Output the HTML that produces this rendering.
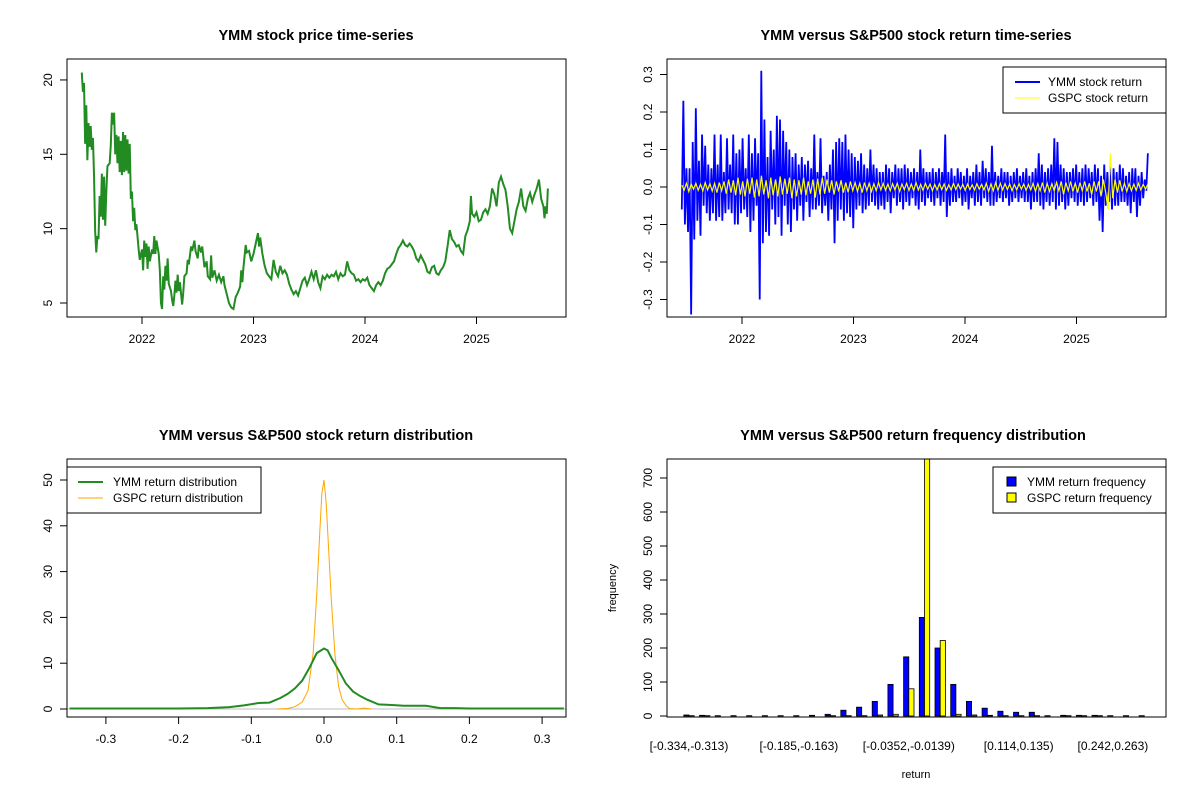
<!DOCTYPE html>
<html><head><meta charset="utf-8"><style>
body{margin:0;background:#fff;}
svg{display:block;font-family:"Liberation Sans",Arial,sans-serif;}
.t{font-size:12px;fill:#000;}
.ti{font-size:14.5px;font-weight:bold;fill:#000;}
</style></head><body>
<svg id="c" width="1200" height="800" viewBox="0 0 1200 800">
<rect width="1200" height="800" fill="#fff"/>
</svg>
<script>
// ---- data ----
const priceTimes = [2021.46,2021.47,2021.48,2021.49,2021.50,2021.51,2021.52,2021.53,2021.54,2021.55,2021.56,2021.57,2021.58,2021.59,2021.60,2021.61,2021.62,2021.63,2021.64,2021.65,2021.66,2021.67,2021.68,2021.69,2021.71,2021.72,2021.73,2021.74,2021.75,2021.76,2021.77,2021.78,2021.79,2021.80,2021.81,2021.82,2021.83,2021.84,2021.85,2021.86,2021.87,2021.88,2021.89,2021.90,2021.91,2021.92,2021.93,2021.94,2021.95,2021.97,2021.98,2022.00,2022.01,2022.02,2022.03,2022.04,2022.05,2022.06,2022.07,2022.09,2022.10,2022.11,2022.12,2022.13,2022.15,2022.16,2022.17,2022.18,2022.19,2022.20,2022.21,2022.22,2022.23,2022.24,2022.26,2022.27,2022.28,2022.29,2022.30,2022.31,2022.32,2022.33,2022.34,2022.36,2022.37,2022.38,2022.40,2022.41,2022.42,2022.44,2022.45,2022.47,2022.48,2022.50,2022.51,2022.53,2022.54,2022.56,2022.58,2022.59,2022.61,2022.62,2022.63,2022.65,2022.67,2022.69,2022.71,2022.73,2022.74,2022.76,2022.78,2022.80,2022.82,2022.84,2022.86,2022.88,2022.89,2022.90,2022.91,2022.93,2022.94,2022.96,2022.98,2023.00,2023.02,2023.04,2023.05,2023.06,2023.08,2023.10,2023.12,2023.14,2023.16,2023.18,2023.20,2023.22,2023.24,2023.26,2023.28,2023.30,2023.32,2023.34,2023.36,2023.38,2023.40,2023.42,2023.44,2023.46,2023.48,2023.50,2023.52,2023.54,2023.56,2023.58,2023.60,2023.62,2023.64,2023.66,2023.68,2023.70,2023.72,2023.74,2023.76,2023.78,2023.80,2023.82,2023.84,2023.86,2023.88,2023.90,2023.92,2023.94,2023.96,2023.98,2024.00,2024.02,2024.04,2024.06,2024.08,2024.10,2024.12,2024.14,2024.16,2024.18,2024.20,2024.22,2024.24,2024.26,2024.28,2024.30,2024.32,2024.34,2024.36,2024.38,2024.40,2024.42,2024.44,2024.46,2024.48,2024.50,2024.52,2024.54,2024.56,2024.58,2024.60,2024.62,2024.64,2024.66,2024.68,2024.70,2024.72,2024.74,2024.76,2024.78,2024.80,2024.82,2024.84,2024.86,2024.88,2024.90,2024.92,2024.94,2024.95,2024.96,2024.98,2025.00,2025.02,2025.04,2025.06,2025.08,2025.10,2025.12,2025.14,2025.16,2025.18,2025.20,2025.22,2025.24,2025.26,2025.28,2025.30,2025.32,2025.34,2025.36,2025.38,2025.40,2025.42,2025.44,2025.46,2025.48,2025.50,2025.52,2025.54,2025.56,2025.58,2025.60,2025.61,2025.62,2025.63,2025.64];
const priceValues = [20.5,19.2,19.8,15.7,18.3,14.6,17.1,15.5,16.9,15.3,16.1,13.5,9.8,8.4,9.5,9.3,12.2,10.8,13.7,10.6,13.5,10.2,12.5,14.2,14.4,15.6,17.8,17.0,17.8,15.0,16.3,14.4,16.2,13.8,15.9,13.6,16.5,13.8,16.3,13.9,16.0,13.7,15.7,12.0,12.5,10.5,11.4,9.9,10.3,8.6,7.9,8.6,7.2,9.2,8.1,9.0,7.3,8.8,7.8,8.6,8.3,9.5,8.3,9.2,8.3,7.2,5.0,4.6,6.8,5.9,7.5,6.5,8.0,6.3,5.8,5.2,4.8,5.5,6.5,5.7,6.9,5.8,6.4,4.9,5.7,6.8,7.0,7.9,7.6,8.8,8.5,9.2,8.5,8.0,8.9,8.4,8.8,7.4,7.8,6.8,6.6,8.2,6.7,7.2,6.5,6.9,6.4,6.8,6.2,5.6,5.0,4.7,4.6,5.4,5.7,6.1,7.2,6.4,7.4,8.9,8.4,8.5,7.8,8.3,9.0,9.7,8.8,9.4,8.3,7.5,7.0,6.8,6.6,7.9,7.1,6.8,7.5,7.0,7.2,6.9,6.3,5.9,5.6,5.8,5.5,6.0,6.5,6.7,6.2,6.6,7.1,6.6,7.2,6.4,6.0,6.8,6.6,6.9,6.7,6.9,6.8,7.1,6.6,7.0,6.8,6.9,7.8,7.2,7.0,6.9,6.5,6.6,6.4,6.6,6.5,6.7,6.2,6.0,5.8,6.2,6.4,6.2,6.5,7.0,7.3,7.4,7.6,7.8,8.3,8.7,8.9,9.2,8.9,8.8,9.0,8.8,8.5,8.0,7.8,8.2,7.9,7.6,7.1,7.0,7.4,7.5,7.0,6.9,7.2,7.4,7.8,8.8,9.9,9.3,9.1,8.8,8.9,8.5,8.3,9.5,9.9,10.5,12.2,11.0,10.8,11.1,10.5,10.6,11.1,11.3,11.0,11.5,12.7,12.3,11.5,13.1,13.5,13.0,12.6,11.5,10.0,9.7,10.5,11.3,11.8,12.7,11.5,11.2,12.0,12.4,11.8,12.3,12.7,13.3,12.0,11.5,10.7,11.5,11.0,12.7];
const ymmReturns = [-0.06,0.23,-0.1,0.05,-0.12,0.05,-0.34,0.12,-0.14,0.21,
-0.09,0.07,-0.13,0.14,-0.05,0.11,-0.07,0.06,-0.09,0.05,
-0.07,0.14,-0.09,0.06,-0.08,0.14,-0.09,0.04,-0.07,0.13,
-0.06,0.06,-0.07,0.14,-0.1,0.09,-0.1,0.1,-0.07,0.13,
-0.06,0.05,-0.08,0.14,-0.12,0.09,-0.09,0.13,-0.05,0.09,
-0.3,0.31,-0.15,0.18,-0.12,0.08,-0.13,0.15,-0.06,0.1,
-0.1,0.19,-0.08,0.18,-0.13,0.15,-0.05,0.12,-0.1,0.1,
-0.12,0.08,-0.06,0.09,-0.09,0.06,-0.05,0.08,-0.09,0.06,
-0.04,0.07,-0.08,0.05,-0.06,0.14,-0.06,0.04,-0.05,0.13,
-0.07,0.03,-0.05,0.04,-0.09,0.06,-0.06,0.1,-0.15,0.12,
-0.09,0.13,-0.06,0.12,-0.09,0.14,-0.07,0.1,-0.08,0.09,
-0.11,0.08,-0.06,0.07,-0.05,0.09,-0.07,0.06,-0.06,0.05,
-0.05,0.1,-0.04,0.06,-0.05,0.05,-0.06,0.04,-0.05,0.04,
-0.06,0.06,-0.04,0.05,-0.07,0.04,-0.03,0.06,-0.05,0.05,
-0.04,0.05,-0.06,0.06,-0.04,0.05,-0.05,0.04,-0.03,0.05,
-0.05,0.04,-0.06,0.1,-0.04,0.05,-0.05,0.04,-0.03,0.04,
-0.04,0.05,-0.05,0.04,-0.03,0.05,-0.05,0.04,-0.04,0.14,
-0.08,0.04,-0.05,0.05,-0.04,0.03,-0.04,0.05,-0.03,0.04,
-0.05,0.03,-0.04,0.05,-0.06,0.03,-0.03,0.04,-0.05,0.06,
-0.04,0.04,-0.05,0.07,-0.03,0.05,-0.04,0.04,-0.05,0.11,
-0.05,0.04,-0.04,0.03,-0.03,0.05,-0.04,0.04,-0.03,0.04,
-0.05,0.03,-0.04,0.04,-0.03,0.05,-0.04,0.03,-0.03,0.04,
-0.04,0.05,-0.04,0.03,-0.06,0.04,-0.04,0.05,-0.04,0.09,
-0.05,0.06,-0.06,0.04,-0.04,0.05,-0.05,0.06,-0.04,0.13,
-0.06,0.12,-0.05,0.06,-0.04,0.05,-0.06,0.04,-0.05,0.04,
-0.03,0.05,-0.04,0.06,-0.05,0.04,-0.04,0.05,-0.05,0.06,
-0.04,0.05,-0.03,0.04,-0.05,0.06,-0.04,0.05,-0.09,0.03,
-0.12,0.06,-0.05,0.04,-0.04,0.06,-0.06,0.05,-0.05,0.04,
-0.05,0.06,-0.04,0.05,-0.04,0.03,-0.05,0.04,-0.07,0.05,
-0.04,0.05,-0.08,0.03,-0.05,0.04,-0.03,0.02,-0.01,0.09];
const gspcReturns = [0.005,-0.008,0.01,-0.012,0.008,-0.006,0.01,-0.009,0.007,-0.01,
0.012,-0.008,0.009,-0.011,0.01,-0.015,0.012,-0.01,0.015,-0.018,
0.02,-0.015,0.018,-0.022,0.025,-0.02,0.015,-0.025,0.022,-0.018,
0.025,-0.028,0.02,-0.025,0.03,-0.02,0.018,-0.03,0.025,-0.022,
0.02,-0.025,0.028,-0.02,0.022,-0.018,0.025,-0.03,0.02,-0.025,
0.018,-0.02,0.025,-0.022,0.015,-0.018,0.02,-0.028,0.022,-0.02,
0.025,-0.018,0.02,-0.015,0.018,-0.02,0.015,-0.012,0.018,-0.015,
0.012,-0.014,0.015,-0.01,0.012,-0.012,0.01,-0.015,0.012,-0.01,
0.01,-0.012,0.009,-0.01,0.012,-0.008,0.01,-0.009,0.008,-0.01,
0.009,-0.008,0.01,-0.012,0.008,-0.007,0.01,-0.009,0.008,-0.01,
0.012,-0.008,0.007,-0.009,0.01,-0.006,0.008,-0.01,0.007,-0.008,
0.009,-0.007,0.008,-0.009,0.006,-0.008,0.01,-0.007,0.008,-0.006,
0.007,-0.009,0.008,-0.007,0.006,-0.008,0.009,-0.006,0.007,-0.008,
0.01,-0.012,0.008,-0.01,0.012,-0.009,0.01,-0.008,0.009,-0.007,
0.008,-0.01,0.007,-0.008,0.009,-0.006,0.008,-0.009,0.007,-0.008,
0.01,-0.012,0.009,-0.01,0.012,-0.015,0.01,-0.012,0.009,-0.01,
0.012,-0.01,0.015,-0.02,0.012,-0.01,0.015,-0.012,0.01,-0.015,
0.012,-0.01,0.015,-0.012,0.01,-0.02,0.015,-0.012,0.015,-0.025,
0.02,-0.015,-0.06,0.09,-0.03,0.02,-0.015,0.018,-0.012,0.01,
-0.012,0.009,-0.01,0.008,-0.009,0.01,-0.008,0.007,-0.006,0.008];
const densX = [-0.35,-0.3,-0.25,-0.2,-0.16,-0.13,-0.11,-0.09,-0.075,-0.06,-0.05,-0.04,-0.03,-0.02,-0.01,0,0.005,0.01,0.02,0.03,0.04,0.05,0.06,0.075,0.09,0.11,0.14,0.16,0.18,0.2,0.25,0.33];
const ymmDensity = [0.1,0.1,0.1,0.1,0.2,0.4,0.8,1.3,1.4,2.4,3.3,4.5,6.2,9.0,12.2,13.2,12.8,11.2,8.5,5.6,3.8,2.8,2.0,1.0,0.9,0.7,0.7,0.2,0.2,0.1,0.1,0.1];
const gspcX = [-0.065,-0.05,-0.04,-0.03,-0.022,-0.015,-0.01,-0.006,-0.003,0,0.003,0.006,0.01,0.015,0.02,0.025,0.03,0.035,0.045,0.055,0.065];
const gspcDensity = [0,0.1,0.5,1.5,4,12,25,38,47,50,45,36,24,12,5,2,0.8,0.1,0,0.2,0];
const binLabels = ["[-0.334,-0.313)","[-0.185,-0.163)","[-0.0352,-0.0139)","[0.114,0.135)","[0.242,0.263)"];
const binLabelIdx = [0,7,14,21,27];
const ymmFreq = [3,2,1,1,1,1,1,1,2,5,17,26,43,93,174,290,200,93,43,23,14,11,11,1,2,2,2,1,1,1];
const gspcFreq = [1,1,0,0,0,0,0,0,0,1,1,1,3,5,80,1000,222,5,3,2,1,1,1,0,1,1,1,0,0,0];
const yearTicks = [2022,2023,2024,2025];

const svg=document.getElementById('c');
const NS='http://www.w3.org/2000/svg';
function el(tag,attrs,parent){const e=document.createElementNS(NS,tag);for(const k in attrs)e.setAttribute(k,attrs[k]);(parent||svg).appendChild(e);return e;}
function txt(s,x,y,cls,anchor,rot,parent){const t=el('text',{x:x,y:y,class:cls,'text-anchor':anchor||'middle'},parent);if(rot)t.setAttribute('transform','rotate(-90 '+x+' '+y+')');t.textContent=s;return t;}
function clip(id,x,y,w,h){const d=el('clipPath',{id:id});el('rect',{x:x,y:y,width:w,height:h},d);}

const tx1=t=>142+(t-2022)*111.5;
const ty1=v=>303-(v-5)*14.87;
const tx2=t=>742+(t-2022)*111.5;
const ty2=v=>187-v*375;
const dx3=v=>324+v*727;
const dy3=v=>709-v*4.58;
const hy4=v=>716-v*0.34;

function frame(name,x1,y1,x2,y2){const r=el('rect',{x:x1,y:y1,width:x2-x1,height:y2-y1,fill:'none',stroke:'#000','stroke-width':1});}
function xtick(g,x,y,label){el('line',{x1:x,y1:y,x2:x,y2:y+7,stroke:'#000'},g);txt(label,x,y+26,'t','middle',false,g);}
function ytick(g,x,y,label){el('line',{x1:x,y1:y,x2:x-7,y2:y,stroke:'#000'},g);txt(label,x-15,y,'t','middle',true,g);}

// ===== Panel 1 =====
let g=el('g',{});
txt('YMM stock price time-series',316,40,'ti','middle',false,g);
frame('price-plot-frame',67,59,566,317);
let ax=el('g',{},g);
yearTicks.forEach(y=>xtick(ax,tx1(y),317,String(y)));
ax=el('g',{},g);
[5,10,15,20].forEach(v=>ytick(ax,67,ty1(v),String(v)));
let p=el('polyline',{points:priceTimes.map((t,i)=>tx1(t)+','+ty1(priceValues[i])).join(' '),fill:'none',stroke:'#228b22','stroke-width':2},g);


// ===== Panel 2 =====
g=el('g',{});
txt('YMM versus S&P500 stock return time-series',916,40,'ti','middle',false,g);
clip('c2',667,59,499,258);
const n1=ymmReturns.length,n2=gspcReturns.length;
p=el('polyline',{points:ymmReturns.map((v,i)=>tx2(2021.46+i*4.18/(n1-1))+','+ty2(v)).join(' '),fill:'none',stroke:'#0000ff','stroke-width':1.8,'clip-path':'url(#c2)'},g);

p=el('polyline',{points:gspcReturns.map((v,i)=>tx2(2021.46+i*4.18/(n2-1))+','+ty2(v)).join(' '),fill:'none',stroke:'#ffff00','stroke-width':1.2,'clip-path':'url(#c2)'},g);

frame('return-plot-frame',667,59,1166,317);
ax=el('g',{},g);
yearTicks.forEach(y=>xtick(ax,tx2(y),317,String(y)));
ax=el('g',{},g);
[-0.3,-0.2,-0.1,0,0.1,0.2,0.3].forEach(v=>ytick(ax,667,ty2(v),v.toFixed(1)));
let lg=el('g',{},g);
el('rect',{x:1003,y:67,width:163,height:46,fill:'#fff',stroke:'#000'},lg);
el('line',{x1:1015,y1:82,x2:1040,y2:82,stroke:'#0000ff','stroke-width':2},lg);
el('line',{x1:1015,y1:98,x2:1040,y2:98,stroke:'#ffff00','stroke-width':1},lg);
txt('YMM stock return',1048,86,'t','start',false,lg);
txt('GSPC stock return',1048,102,'t','start',false,lg);

// ===== Panel 3 =====
g=el('g',{});
txt('YMM versus S&P500 stock return distribution',316,440,'ti','middle',false,g);
clip('c3',67,459,499,258);
el('line',{x1:67,y1:dy3(0),x2:566,y2:dy3(0),stroke:'#bebebe'},g);
p=el('polyline',{points:gspcX.map((x,i)=>dx3(x)+','+dy3(gspcDensity[i])).join(' '),fill:'none',stroke:'#ffa500','stroke-width':1,'clip-path':'url(#c3)'},g);

p=el('polyline',{points:densX.map((x,i)=>dx3(x)+','+dy3(ymmDensity[i])).join(' '),fill:'none',stroke:'#228b22','stroke-width':2,'clip-path':'url(#c3)'},g);

frame('distribution-plot-frame',67,459,566,717);
ax=el('g',{},g);
[-0.3,-0.2,-0.1,0,0.1,0.2,0.3].forEach(v=>xtick(ax,dx3(v),717,v.toFixed(1)));
ax=el('g',{},g);
[0,10,20,30,40,50].forEach(v=>ytick(ax,67,dy3(v),String(v)));
lg=el('g',{},g);
el('rect',{x:67,y:467,width:194,height:46,fill:'#fff',stroke:'#000'},lg);
el('line',{x1:78,y1:482,x2:103,y2:482,stroke:'#228b22','stroke-width':2},lg);
el('line',{x1:78,y1:498,x2:103,y2:498,stroke:'#ffa500','stroke-width':1},lg);
txt('YMM return distribution',113,486,'t','start',false,lg);
txt('GSPC return distribution',113,502,'t','start',false,lg);

// ===== Panel 4 =====
g=el('g',{});
txt('YMM versus S&P500 return frequency distribution',913,440,'ti','middle',false,g);
clip('c4',667,459,499,258);
const gx=i=>689+i*15.7;
let bars=el('g',{'clip-path':'url(#c4)'},g);
ymmFreq.forEach((v,i)=>{
  const r=el('rect',{x:gx(i)-5.2,y:hy4(v),width:5.2,height:hy4(0)-hy4(v),fill:'#0000ff',stroke:'#000','stroke-width':0.8},bars);
  
  const w=gspcFreq[i];
  const r2=el('rect',{x:gx(i),y:hy4(w),width:5.2,height:hy4(0)-hy4(w),fill:'#ffff00',stroke:'#000','stroke-width':0.8},bars);
  
});
frame('frequency-plot-frame',667,459,1166,717);
ax=el('g',{},g);
binLabelIdx.forEach((b,k)=>txt(binLabels[k],gx(b),750,'t','middle',false,ax));
ax=el('g',{},g);
[0,100,200,300,400,500,600,700].forEach(v=>ytick(ax,667,hy4(v),String(v)));
let lab=txt('frequency',616,588,'t','middle',true,g);lab.style.fontSize='11px';

lab=txt('return',916,778,'t','middle',false,g);lab.style.fontSize='11px';

lg=el('g',{},g);
el('rect',{x:993,y:467,width:173,height:46,fill:'#fff',stroke:'#000'},lg);
el('rect',{x:1007,y:477,width:9,height:9,fill:'#0000ff',stroke:'#000'},lg);
el('rect',{x:1007,y:493,width:9,height:9,fill:'#ffff00',stroke:'#000'},lg);
txt('YMM return frequency',1027,486,'t','start',false,lg);
txt('GSPC return frequency',1027,502,'t','start',false,lg);
</script>
</body></html>
